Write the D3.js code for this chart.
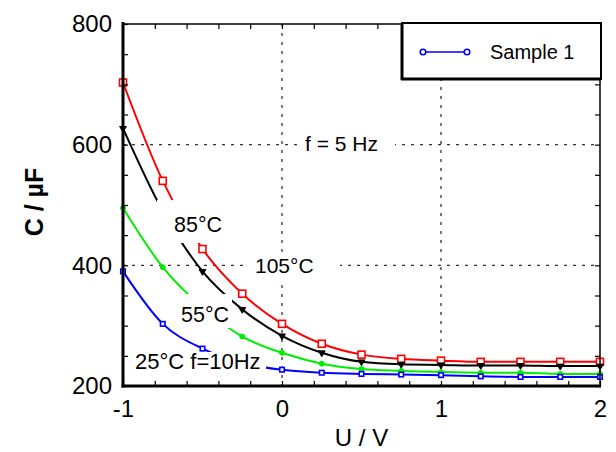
<!DOCTYPE html>
<html><head><meta charset="utf-8">
<script src="https://cdn.jsdelivr.net/npm/d3@7"></script>
<style>
html,body{margin:0;padding:0;background:#fff;}
svg text{font-family:"Liberation Sans",Arial,sans-serif;fill:#000;}
</style></head>
<body><svg id="chart" width="616" height="452"></svg>
<script>
// ---- data ----
const voltages = [-1,-0.75,-0.5,-0.25,0,0.25,0.5,0.75,1,1.25,1.5,1.75,2];
const c105 = [703,540,427,353,303,270,252,245,242,240,240,240,240];
const c85  = [627,490,390,327,283,255,240,236,235,234,234,233,233];
const c55  = [495,397,330,282,255,237,228,225,223,222,222,220,220];
const c25  = [390,303,262,238,227,222,220,219,218,216,215,215,215];
const xTickValues = [-1,0,1,2];
const xTickLabels = ["-1","0","1","2"];
const yTickValues = [200,400,600,800];
const yTickLabels = ["200","400","600","800"];
const xGrid = [0,1];
const yGrid = [400,600];
const legendLabel = "Sample 1";

const svg = d3.select("#chart");
const x = d3.scaleLinear().domain([-1,2]).range([123,600]);
const y = d3.scaleLinear().domain([200,800]).range([386,24]);

// grid
const g = svg.append("g");
g.selectAll(".vg").data(xGrid).join("line")
  .attr("x1",d=>x(d)).attr("x2",d=>x(d)).attr("y1",y(800)).attr("y2",y(200))
  .attr("stroke","#333").attr("stroke-width",1.3).attr("stroke-dasharray","3,6");
g.selectAll(".hg").data(yGrid).join("line")
  .attr("x1",x(-1)).attr("x2",x(2)).attr("y1",d=>y(d)).attr("y2",d=>y(d))
  .attr("stroke","#333").attr("stroke-width",1.3).attr("stroke-dasharray","3,6");

// series
const series = [
  {vals:c105,color:"#ff0000",marker:"square",size:7,fill:"#fff"},
  {vals:c85,color:"#000000",marker:"tri",size:20,fill:"#000"},
  {vals:c55,color:"#00ee00",marker:"circle",size:5,fill:"#00ee00"},
  {vals:c25,color:"#0000ff",marker:"square",size:4.5,fill:"#fff"}
];
const line = d3.line().x((d,i)=>x(voltages[i])).y(d=>y(d)).curve(d3.curveMonotoneX);
series.forEach(s=>{
  svg.append("path").attr("d",line(s.vals)).attr("fill","none")
    .attr("stroke",s.color).attr("stroke-width",2);
  const m = svg.append("g");
  s.vals.forEach((v,i)=>{
    const cx=x(voltages[i]), cy=y(v);
    if(s.marker==="square"){
      m.append("rect").attr("x",cx-s.size/2).attr("y",cy-s.size/2)
       .attr("width",s.size).attr("height",s.size)
       .attr("fill",s.fill).attr("stroke",s.color).attr("stroke-width",1.6);
    } else if(s.marker==="circle"){
      m.append("circle").attr("cx",cx).attr("cy",cy).attr("r",s.size/2)
       .attr("fill",s.fill).attr("stroke",s.color).attr("stroke-width",1);
    } else {
      m.append("path").attr("d",d3.symbol(d3.symbolTriangle,s.size)())
       .attr("transform",`translate(${cx},${cy}) rotate(180)`)
       .attr("fill",s.fill).attr("stroke",s.color).attr("stroke-width",1);
    }
  });
});

// annotations with white boxes
const notes = [
  {t:"85°C",tx:174,ty:232,fs:21.5,box:[157,200,84,43]},
  {t:"105°C",tx:255,ty:273,fs:21,box:[245,252,95,30]},
  {t:"55°C",tx:181,ty:322,fs:21.5,box:[178,294,54,34]},
  {t:"25°C f=10Hz",tx:135,ty:369,fs:22,box:[130,352,136,32]},
  {t:"f = 5 Hz",tx:305,ty:151,fs:21,box:[298,128,97,32]}
];
notes.forEach(n=>{
  svg.append("rect").attr("x",n.box[0]).attr("y",n.box[1])
    .attr("width",n.box[2]).attr("height",n.box[3]).attr("fill","#fff");
});
notes.forEach(n=>{
  svg.append("text").attr("x",n.tx).attr("y",n.ty)
    .attr("font-size",n.fs).text(n.t);
});

// axes
const yAxis = d3.axisLeft(y).tickValues(d3.range(200,801,50)).tickSizeInner(-5).tickSizeOuter(0)
  .tickFormat(d=>{const k=yTickValues.indexOf(d);return k>=0?yTickLabels[k]:"";}).tickPadding(11);
const ya = svg.append("g").attr("transform",`translate(${x(-1)},0)`).call(yAxis);
ya.select(".domain").remove();
ya.selectAll("line").attr("stroke","#000").attr("stroke-width",1.2);
ya.selectAll("text").attr("font-size",24).attr("font-family","Liberation Sans, Arial, sans-serif");

const xAxis = d3.axisBottom(x).tickValues(d3.range(-1,2.001,0.2).map(v=>+v.toFixed(2))).tickSizeInner(-5).tickSizeOuter(0)
  .tickFormat(d=>{const k=xTickValues.findIndex(v=>Math.abs(v-d)<1e-6);return k>=0?xTickLabels[k]:"";}).tickPadding(14);
const xa = svg.append("g").attr("transform",`translate(0,${y(200)})`).call(xAxis);
xa.select(".domain").remove();
xa.selectAll("line").attr("stroke","#000").attr("stroke-width",1.2);
xa.selectAll("text").attr("font-size",24).attr("font-family","Liberation Sans, Arial, sans-serif");

// right ticks
const ra = svg.append("g").attr("transform",`translate(${x(2)},0)`)
  .call(d3.axisRight(y).tickValues(d3.range(200,801,50)).tickSizeInner(-5).tickSizeOuter(0).tickFormat(""));
ra.select(".domain").remove();
ra.selectAll("line").attr("stroke","#000").attr("stroke-width",1.2);
const ta = svg.append("g").attr("transform",`translate(0,${y(800)})`)
  .call(d3.axisTop(x).tickValues(d3.range(-1,2.001,0.2).map(v=>+v.toFixed(2))).tickSizeInner(-5).tickSizeOuter(0).tickFormat(""));
ta.select(".domain").remove();
ta.selectAll("line").attr("stroke","#000").attr("stroke-width",1.2);

// frame
svg.append("line").attr("x1",x(-1)).attr("x2",x(2)).attr("y1",y(800)).attr("y2",y(800)).attr("stroke","#000").attr("stroke-width",1.5);
svg.append("line").attr("x1",x(2)).attr("x2",x(2)).attr("y1",y(800)).attr("y2",y(200)).attr("stroke","#000").attr("stroke-width",1.5);
svg.append("line").attr("x1",x(-1)).attr("x2",x(-1)).attr("y1",y(800)-2).attr("y2",y(200)+1.5).attr("stroke","#000").attr("stroke-width",3);
svg.append("line").attr("x1",x(-1)-1.5).attr("x2",x(2)+1).attr("y1",y(200)).attr("y2",y(200)).attr("stroke","#000").attr("stroke-width",3);

// axis titles
svg.append("text").attr("x",(x(-1)+x(2))/2).attr("y",446).attr("text-anchor","middle")
  .attr("font-size",24).text("U / V");
svg.append("text").attr("transform","translate(43,202) rotate(-90)").attr("text-anchor","middle")
  .attr("font-size",25).attr("font-weight","bold").text("C / µF");

// legend
const lg = svg.append("g");
lg.append("rect").attr("x",402).attr("y",23).attr("width",199).attr("height",56)
  .attr("fill","#fff").attr("stroke","#000").attr("stroke-width",2);
lg.append("line").attr("x1",402).attr("x2",402).attr("y1",23).attr("y2",80).attr("stroke","#000").attr("stroke-width",3);
lg.append("line").attr("x1",401).attr("x2",601).attr("y1",79).attr("y2",79).attr("stroke","#000").attr("stroke-width",3);
lg.append("line").attr("x1",423).attr("x2",467).attr("y1",52).attr("y2",52).attr("stroke","#0000ff").attr("stroke-width",1.5);
[423,467].forEach(cx=>lg.append("circle").attr("cx",cx).attr("cy",52).attr("r",2.8)
  .attr("fill","#fff").attr("stroke","#0000ff").attr("stroke-width",1.6));
lg.append("text").attr("x",490).attr("y",59).attr("font-size",20).text(legendLabel);
</script></body></html>
